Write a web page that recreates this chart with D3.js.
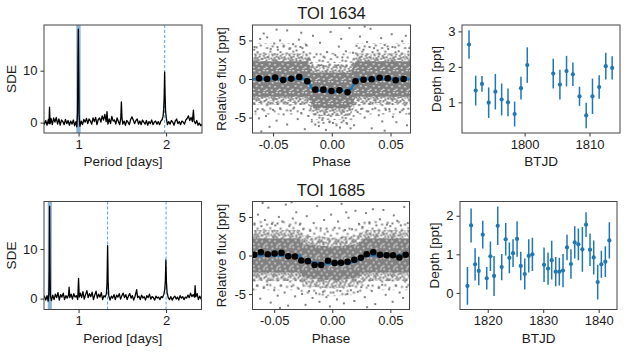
<!DOCTYPE html>
<html><head><meta charset="utf-8">
<script src="https://cdn.jsdelivr.net/npm/d3@7"></script>
<style>body{margin:0;background:#fff} svg text{font-family:"Liberation Sans",Arial,sans-serif;fill:#1a1a1a}</style>
</head><body><svg id="c" width="625" height="360"></svg>
<script>
// ---------- DATA ----------
const titles = ["TOI 1634", "TOI 1685"];
// BLS periodograms [period (days), SDE]
const sde1634 = [[0.605,0.2],[0.610,-0.3],[0.625,0.4],[0.640,-0.5],[0.655,0.6],[0.662,-0.2],[0.668,3.0],[0.675,-0.2],[0.685,0.8],[0.700,-0.4],[0.715,0.9],[0.730,0.1],[0.745,1.0],[0.760,-0.3],[0.775,0.7],[0.790,-0.5],[0.805,0.5],[0.820,0.2],[0.835,-0.4],[0.850,0.6],[0.865,-0.2],[0.880,0.4],[0.895,-0.5],[0.910,0.3],[0.925,-0.3],[0.940,0.5],[0.955,-0.6],[0.970,0.2],[0.980,-0.8],[0.988,2.0],[0.993,12.0],[0.997,18.0],[1.001,11.0],[1.006,1.5],[1.015,-0.7],[1.030,0.3],[1.045,-0.4],[1.060,0.6],[1.075,0.1],[1.090,0.8],[1.105,-0.2],[1.120,0.7],[1.135,0.3],[1.150,-0.3],[1.165,0.9],[1.180,0.2],[1.195,1.0],[1.210,-0.4],[1.225,0.6],[1.240,0.9],[1.255,0.1],[1.270,1.3],[1.285,0.5],[1.300,1.6],[1.315,0.2],[1.325,2.1],[1.335,-0.3],[1.350,0.7],[1.365,-0.2],[1.380,1.2],[1.395,0.3],[1.410,0.5],[1.425,-0.3],[1.440,0.9],[1.455,0.2],[1.470,-0.4],[1.482,0.8],[1.489,4.0],[1.496,0.9],[1.505,-0.3],[1.520,0.3],[1.535,-0.5],[1.550,0.4],[1.565,0.1],[1.580,-0.4],[1.595,0.6],[1.610,1.1],[1.625,0.5],[1.640,-0.2],[1.655,0.4],[1.670,0.7],[1.685,-0.3],[1.700,0.3],[1.715,-0.4],[1.730,0.5],[1.745,0.1],[1.760,-0.3],[1.775,0.4],[1.790,-0.5],[1.805,0.2],[1.820,-0.2],[1.835,0.5],[1.850,-0.4],[1.865,0.1],[1.880,0.3],[1.895,-0.3],[1.910,0.2],[1.925,-0.4],[1.940,0.3],[1.955,0.6],[1.965,1.2],[1.972,2.5],[1.978,5.0],[1.983,9.7],[1.988,5.5],[1.994,2.2],[2.002,0.9],[2.015,-0.4],[2.030,0.2],[2.045,-0.3],[2.060,0.4],[2.075,0.1],[2.090,-0.5],[2.105,0.3],[2.120,0.7],[2.135,-0.2],[2.150,0.2],[2.165,-0.4],[2.180,0.3],[2.195,0.1],[2.210,-0.3],[2.225,0.5],[2.240,0.8],[2.255,1.3],[2.270,0.4],[2.285,1.0],[2.300,0.2],[2.312,2.4],[2.320,0.3],[2.335,-0.2],[2.350,0.4],[2.365,-0.5],[2.380,-0.1],[2.395,-0.6],[2.410,-0.3]];
const sde1685 = [[0.605,0.2],[0.610,0.5],[0.625,-0.3],[0.640,0.6],[0.652,-0.5],[0.660,0.8],[0.665,6.0],[0.669,18.6],[0.673,7.0],[0.678,0.6],[0.690,-0.4],[0.705,0.7],[0.720,-0.2],[0.735,0.9],[0.750,0.2],[0.765,1.2],[0.780,-0.3],[0.795,0.8],[0.810,0.3],[0.825,1.1],[0.840,-0.2],[0.855,0.6],[0.870,0.1],[0.885,0.7],[0.892,2.3],[0.900,0.2],[0.915,0.9],[0.930,-0.1],[0.945,1.0],[0.960,0.3],[0.975,0.6],[0.990,-0.2],[1.000,4.1],[1.008,0.3],[1.020,1.1],[1.035,0.2],[1.050,1.4],[1.065,-0.1],[1.080,0.8],[1.095,1.6],[1.110,0.2],[1.125,1.0],[1.140,0.4],[1.155,1.3],[1.170,-0.2],[1.185,0.7],[1.200,1.5],[1.215,0.1],[1.230,0.9],[1.245,0.3],[1.260,1.2],[1.275,-0.2],[1.290,0.6],[1.305,0.3],[1.318,1.0],[1.325,3.0],[1.332,10.7],[1.338,3.5],[1.345,0.6],[1.360,-0.3],[1.375,0.5],[1.390,0.1],[1.405,0.8],[1.420,-0.2],[1.435,0.7],[1.450,0.3],[1.465,1.0],[1.480,-0.1],[1.495,0.6],[1.510,1.1],[1.525,0.2],[1.540,0.8],[1.555,-0.2],[1.570,0.5],[1.585,1.0],[1.600,0.1],[1.615,0.6],[1.630,-0.3],[1.645,0.4],[1.664,1.8],[1.675,0.2],[1.690,0.5],[1.705,-0.2],[1.720,0.7],[1.735,0.1],[1.750,0.4],[1.765,-0.3],[1.780,0.6],[1.795,0.2],[1.810,0.9],[1.825,-0.1],[1.840,0.4],[1.855,0.2],[1.870,-0.3],[1.885,0.5],[1.900,0.1],[1.915,0.3],[1.930,-0.2],[1.945,0.4],[1.960,0.2],[1.975,0.9],[1.985,1.8],[1.992,3.6],[1.998,7.8],[2.004,3.4],[2.012,1.2],[2.025,0.2],[2.040,-0.2],[2.055,0.4],[2.070,-0.3],[2.085,0.2],[2.100,0.5],[2.115,-0.1],[2.130,0.3],[2.145,-0.3],[2.160,0.6],[2.175,0.1],[2.190,0.4],[2.205,-0.2],[2.220,0.3],[2.235,0.1],[2.250,0.7],[2.265,0.2],[2.280,1.1],[2.295,0.4],[2.310,0.8],[2.325,0.3],[2.332,2.6],[2.340,0.4],[2.355,1.0],[2.370,-0.2],[2.385,0.5],[2.400,-0.1],[2.410,0.2]];
const band1634 = [0.974, 1.023];
const band1685 = [0.648, 0.694];
const harm1634 = [1.984];
const harm1685 = [1.332, 2.0];

// folded light curves: binned points
const binPhase1634 = [-0.0619,-0.0551,-0.0482,-0.0414,-0.0345,-0.0277,-0.0209,-0.0140,-0.0072,-0.0003,0.0065,0.0134,0.0202,0.0270,0.0339,0.0407,0.0476,0.0544,0.0612];
const binFlux1634  = [0.09,0.0,0.2,-0.13,0.04,0.26,-0.3,-1.38,-1.38,-1.55,-1.47,-1.72,-0.3,-0.09,-0.04,0.17,0.09,-0.17,0.0];
const binPhase1685 = [-0.0672,-0.0615,-0.0555,-0.0497,-0.0437,-0.0379,-0.0322,-0.0267,-0.0210,-0.0152,-0.0095,-0.0037,0.0020,0.0075,0.0132,0.0190,0.0247,0.0296,0.0353,0.0411,0.0468,0.0523,0.0578,0.0632];
const binFlux1685  = [0.09,0.43,0.17,0.26,0.34,-0.09,-0.13,-0.64,-0.73,-1.24,-1.24,-0.68,-0.98,-0.94,-0.81,-0.56,-0.30,0.17,0.43,0.09,0.04,0.04,-0.26,0.09];
// transit models
const modPhase1634 = [-0.07,-0.0205,-0.019,-0.0165,-0.0150,-0.010,-0.005,0.0,0.005,0.010,0.0150,0.0165,0.019,0.0205,0.07];
const modFlux1634  = [0,0,-0.6,-1.30,-1.40,-1.52,-1.60,-1.62,-1.60,-1.52,-1.40,-1.30,-0.6,0,0];
const modPhase1685 = [-0.07,-0.028,-0.0255,-0.020,-0.010,0.0,0.010,0.018,0.022,0.026,0.029,0.07];
const modFlux1685  = [0,0,-0.72,-0.85,-1.0,-1.05,-1.0,-0.88,-0.65,-0.3,0,0];
// density envelope of the unbinned cloud (phase; dense core, dense fringe, sparse fringe)
const envPhase1634 = [-0.07,-0.0205,-0.0155,0.0155,0.0205,0.07];
const coreLo1634 = [-2.3,-2.3,-3.8,-3.8,-2.3,-2.3];
const coreHi1634 = [2.3,2.3,0.8,0.8,2.3,2.3];
const midLo1634  = [-3.3,-3.3,-4.8,-4.8,-3.3,-3.3];
const midHi1634  = [3.3,3.3,1.9,1.9,3.3,3.3];
const outLo1634  = [-4.6,-4.6,-5.8,-5.8,-4.6,-4.6];
const outHi1634  = [4.6,4.6,3.4,3.4,4.6,4.6];
const envPhase1685 = [-0.07,-0.028,-0.025,0.0,0.022,0.028,0.07];
const coreLo1685 = [-2.2,-2.2,-2.9,-3.25,-2.9,-2.2,-2.2];
const coreHi1685 = [2.2,2.2,1.5,1.15,1.5,2.2,2.2];
const midLo1685  = [-3.3,-3.3,-4.0,-4.3,-4.0,-3.3,-3.3];
const midHi1685  = [3.3,3.3,2.6,2.3,2.6,3.3,3.3];
const outLo1685  = [-4.5,-4.5,-5.1,-5.3,-5.1,-4.5,-4.5];
const outHi1685  = [4.5,4.5,3.9,3.7,3.9,4.5,4.5];
// scattered individual points outside the dense cloud [phase, flux]
const pts1634 = [[-0.064,4.1],[-0.061,5.2],[-0.058,5.9],[-0.055,5.4],[-0.052,3.9],[-0.049,4.6],[-0.046,3.8],[-0.044,5.0],[-0.041,4.2],[-0.038,6.3],[-0.036,3.9],[-0.033,4.5],[-0.030,3.7],[-0.028,5.1],[-0.025,4.0],[-0.022,4.4],[-0.019,2.6],[-0.016,5.6],[-0.013,3.2],[-0.010,4.7],[-0.007,2.9],[-0.004,3.5],[-0.001,6.1],[0.003,3.1],[0.006,4.2],[0.009,2.8],[0.012,3.6],[0.015,6.6],[0.018,3.4],[0.021,4.3],[0.024,5.5],[0.027,3.8],[0.030,4.8],[0.033,6.5],[0.036,4.0],[0.039,3.7],[0.042,5.3],[0.045,4.4],[0.048,3.9],[0.051,5.8],[0.054,4.1],[0.057,3.6],[0.060,4.9],[0.063,5.6],[0.066,4.0],[-0.066,3.8],[-0.047,6.4],[0.028,6.8],[0.008,5.2],[-0.026,6.0],
 [-0.065,-4.2],[-0.062,-5.1],[-0.059,-3.9],[-0.056,-4.8],[-0.053,-6.2],[-0.050,-4.0],[-0.047,-5.4],[-0.044,-3.8],[-0.041,-4.6],[-0.038,-5.9],[-0.035,-4.1],[-0.032,-3.7],[-0.029,-5.2],[-0.026,-4.4],[-0.023,-6.5],[-0.020,-4.8],[-0.017,-5.5],[-0.014,-5.9],[-0.011,-6.1],[-0.008,-5.3],[-0.005,-6.6],[-0.002,-5.6],[0.001,-5.7],[0.004,-6.0],[0.007,-6.3],[0.010,-5.4],[0.013,-5.8],[0.016,-6.4],[0.019,-6.0],[0.022,-4.3],[0.025,-3.9],[0.028,-5.0],[0.031,-4.2],[0.034,-6.4],[0.037,-3.8],[0.040,-4.7],[0.043,-5.5],[0.046,-4.0],[0.049,-3.9],[0.052,-4.9],[0.055,-5.6],[0.058,-4.3],[0.061,-3.9],[0.064,-6.0],[0.066,-4.5],[-0.060,-6.8],[0.045,-6.7]];
const pts1685 = [[-0.067,4.0],[-0.064,5.3],[-0.061,3.8],[-0.058,4.6],[-0.055,6.2],[-0.052,4.1],[-0.049,3.9],[-0.046,5.0],[-0.043,4.4],[-0.040,6.6],[-0.037,3.8],[-0.034,4.8],[-0.031,5.6],[-0.028,4.0],[-0.025,3.4],[-0.022,5.1],[-0.019,3.2],[-0.016,4.2],[-0.013,6.4],[-0.010,3.5],[-0.007,4.6],[-0.004,3.1],[-0.001,5.3],[0.002,3.6],[0.005,4.4],[0.008,6.7],[0.011,3.3],[0.014,4.9],[0.017,3.4],[0.020,5.8],[0.023,4.1],[0.026,3.7],[0.029,5.5],[0.032,4.3],[0.035,6.0],[0.038,3.9],[0.041,4.7],[0.044,5.9],[0.047,4.0],[0.050,3.8],[0.053,5.2],[0.056,4.5],[0.059,3.9],[0.062,6.3],[0.065,4.2],[-0.060,6.8],[0.012,5.6],[-0.035,6.9],
 [-0.068,-4.4],[-0.065,-3.9],[-0.062,-5.6],[-0.059,-4.2],[-0.056,-3.8],[-0.053,-6.1],[-0.050,-4.5],[-0.047,-5.2],[-0.044,-3.9],[-0.041,-4.8],[-0.038,-6.5],[-0.035,-4.0],[-0.032,-5.3],[-0.029,-4.3],[-0.026,-5.0],[-0.023,-6.4],[-0.020,-4.6],[-0.017,-5.5],[-0.014,-4.9],[-0.011,-6.0],[-0.008,-4.7],[-0.005,-5.4],[-0.002,-6.6],[0.001,-4.8],[0.004,-5.7],[0.007,-4.6],[0.010,-6.2],[0.013,-5.0],[0.016,-4.5],[0.019,-5.9],[0.022,-4.7],[0.025,-4.1],[0.028,-5.4],[0.031,-3.9],[0.034,-4.6],[0.037,-6.3],[0.040,-4.2],[0.043,-3.8],[0.046,-5.1],[0.049,-4.4],[0.052,-6.0],[0.055,-3.9],[0.058,-4.8],[0.061,-5.5],[0.064,-4.1],[-0.045,-6.8],[0.030,-6.7]];
// per-transit depths
const btjd1634  = [1791.43,1792.46,1793.43,1794.46,1795.49,1796.46,1797.44,1798.46,1799.44,1800.41,1804.41,1805.44,1806.46,1807.44,1808.46,1809.49,1810.46,1811.49,1812.51,1813.49];
const depth1634 = [2.63,1.33,1.52,0.99,1.30,1.08,1.00,0.67,1.40,2.05,1.81,1.50,1.88,1.79,1.17,0.63,1.17,1.43,2.02,1.97];
const err1634   = [0.40,0.42,0.22,0.43,0.50,0.45,0.39,0.35,0.32,0.50,0.42,0.42,0.43,0.33,0.27,0.36,0.50,0.33,0.38,0.33];
const btjd1685  = [1816.34,1817.00,1817.72,1818.38,1819.10,1819.82,1820.48,1821.14,1821.80,1822.52,1823.24,1823.90,1824.56,1825.29,1825.95,1826.67,1827.39,1828.05,1830.15,1830.87,1831.53,1832.25,1832.91,1833.57,1834.29,1835.00,1835.68,1836.34,1837.06,1837.72,1838.44,1839.10,1839.82,1840.48,1841.20,1841.92];
const depth1685 = [0.18,1.75,0.74,0.57,1.51,0.38,0.95,0.44,1.74,0.67,1.39,0.91,1.03,1.40,0.70,0.49,0.96,1.00,0.73,0.63,0.85,0.55,0.55,0.58,1.18,0.75,1.31,1.26,1.13,1.77,1.12,0.92,0.28,0.74,0.81,1.36];
const err1685   = [0.49,0.44,0.42,0.37,0.36,0.29,0.38,0.52,0.50,0.34,0.42,0.40,0.36,0.46,0.37,0.40,0.43,0.43,0.45,0.42,0.50,0.38,0.36,0.43,0.33,0.38,0.42,0.41,0.58,0.32,0.42,0.44,0.45,0.35,0.40,0.47];
// ticks
const perTicks = [1, 2];
const phaseTicks = [-0.05, 0, 0.05];
const fluxTicks = [-5, 0, 5];
const sdeTicks = [0, 10];
const btjdTicks1634 = [1800, 1810], btjdTicks1685 = [1820, 1830, 1840];
const depthTicks1634 = [1, 2, 3], depthTicks1685 = [0, 1, 2];

// ---------- DRAW ----------
const C0 = "#1f77b4", GREY = "#808080";
const svg = d3.select("#c");
const defs = svg.append("defs");
// textures that stand in for the thousands of unbinned flux points
function texture(id, w, h, bg, dots, size, col){
  const p = defs.append("pattern").attr("id",id).attr("patternUnits","userSpaceOnUse").attr("width",w).attr("height",h);
  if (bg) p.append("rect").attr("width",w).attr("height",h).attr("fill",bg);
  dots.forEach(d=>p.append("rect").attr("x",d[0]).attr("y",d[1]).attr("width",size).attr("height",size).attr("fill",col));
}
texture("coreTex",13,11,GREY,[[1,1],[6.4,2.2],[10.7,0.8],[3.5,5.3],[8.8,6.1],[0.4,8.7],[5.6,9.4],[11.5,9.9]],1.4,"#fff");
texture("midTex",17,13,null,[[0,0],[4.5,1.2],[8,0.3],[12.3,2.1],[15.2,0.6],[2.2,3.4],[6.1,4.6],[10.4,3.8],[14.1,5.3],[0.8,6.5],[5.3,7.9],[8.7,6.8],[12.9,8.4],[16,7.4],[3.1,9.6],[7.4,10.7],[11,10.2],[14.8,11.3],[0.4,11.8],[5.9,12],[9.6,12.6],[1.7,1.9],[11.5,5.9],[6.8,2.3],[3.9,6.2],[13.6,0.2],[16.2,3.2],[2.6,8.2]],2,GREY);
texture("outTex",23,19,null,[[1,2],[7.3,0.5],[13.6,3.1],[19.2,1.4],[4.1,7.2],[10.5,8.4],[16.8,6.6],[21.4,9.3],[2.2,12.5],[8.4,14.1],[14.7,12.2],[19.9,15.6],[5.5,17.4],[12.1,17.9],[17.3,18.5],[0.3,16.1]],2,GREY);

let cid = 0;
function panel(x0,y0,w,h,xd,yd){
  const g = svg.append("g").attr("transform",`translate(${x0},${y0})`);
  const x = d3.scaleLinear().domain(xd).range([0,w]);
  const y = d3.scaleLinear().domain(yd).range([h,0]);
  const id = "clip"+(cid++);
  defs.append("clipPath").attr("id",id).append("rect").attr("width",w).attr("height",h);
  const plot = g.append("g").attr("clip-path",`url(#${id})`);
  return {g,plot,x,y,w,h};
}
function axes(p,xt,yt,xf,yf,xl,yl,ylx){
  const style = s => s.attr("font-size",13).attr("font-family","Liberation Sans, Arial, sans-serif").attr("color","#1a1a1a")
     .call(a=>a.select(".domain").remove()).call(a=>a.selectAll("line").attr("stroke","#333"));
  p.g.append("g").attr("transform",`translate(0,${p.h})`)
    .call(d3.axisBottom(p.x).tickValues(xt).tickFormat(xf).tickSize(3.5).tickPadding(3)).call(style);
  p.g.append("g").call(d3.axisLeft(p.y).tickValues(yt).tickFormat(yf).tickSize(3.5).tickPadding(3)).call(style);
  p.g.append("rect").attr("x",0).attr("y",0).attr("width",p.w).attr("height",p.h).attr("fill","none").attr("stroke","#444").attr("stroke-width",1);
  p.g.append("text").attr("x",p.w/2).attr("y",p.h+33).attr("text-anchor","middle").attr("font-size",13.5).text(xl);
  p.g.append("text").attr("transform",`translate(${ylx},${p.h/2}) rotate(-90)`).attr("text-anchor","middle").attr("font-size",13.5).text(yl);
}
function periodogram(p,data,band,harm){
  p.plot.append("rect").attr("x",p.x(band[0])).attr("width",p.x(band[1])-p.x(band[0])).attr("y",0).attr("height",p.h).attr("fill",C0).attr("opacity",0.55);
  p.plot.selectAll(".hl").data(harm).join("line").attr("x1",d=>p.x(d)).attr("x2",d=>p.x(d)).attr("y1",0).attr("y2",p.h)
    .attr("stroke","#5aa0d8").attr("stroke-width",1).attr("stroke-dasharray","3,2");
  p.plot.append("path").datum(data).attr("fill","none").attr("stroke","#000").attr("stroke-width",1.3).attr("stroke-linejoin","round")
    .attr("d",d3.line().x(d=>p.x(d[0])).y(d=>p.y(d[1])));
}
function folded(p,env,pts,modP,modF,binP,binF){
  const [ep,cl,ch,ml,mh,ol,oh] = env;
  const idx = d3.range(ep.length);
  const band = (lo,hi,fill) => p.plot.append("path").datum(idx).attr("fill",fill)
    .attr("d",d3.area().x(i=>p.x(ep[i])).y0(i=>p.y(lo[i])).y1(i=>p.y(hi[i])));
  band(ol,oh,"url(#outTex)");
  band(ml,mh,"url(#midTex)");
  band(cl,ch,"url(#coreTex)");
  p.plot.selectAll(".pt").data(pts).join("rect").attr("x",d=>p.x(d[0])-1).attr("y",d=>p.y(d[1])-1).attr("width",2).attr("height",2).attr("fill",GREY);
  p.plot.append("path").datum(d3.range(modP.length)).attr("fill","none").attr("stroke",C0).attr("stroke-width",2.6)
    .attr("d",d3.line().x(i=>p.x(modP[i])).y(i=>p.y(modF[i])));
  p.plot.selectAll(".bn").data(d3.range(binP.length)).join("circle").attr("cx",i=>p.x(binP[i])).attr("cy",i=>p.y(binF[i])).attr("r",3.3).attr("fill","#000");
}
function depths(p,t,dp,er){
  const idx = d3.range(t.length);
  p.plot.selectAll(".eb").data(idx).join("line").attr("x1",i=>p.x(t[i])).attr("x2",i=>p.x(t[i]))
    .attr("y1",i=>p.y(dp[i]-er[i])).attr("y2",i=>p.y(dp[i]+er[i])).attr("stroke",C0).attr("stroke-width",1.5);
  p.plot.selectAll(".dp").data(idx).join("circle").attr("cx",i=>p.x(t[i])).attr("cy",i=>p.y(dp[i])).attr("r",2.1).attr("fill",C0);
}
const fmtInt = d3.format("d"), fmtPh = d => d.toFixed(2);

// Row 1: TOI 1634
const p1 = panel(44,25,158,108,[0.605,2.41],[-2,18.8]);
periodogram(p1,sde1634,band1634,harm1634);
axes(p1,perTicks,sdeTicks,fmtInt,fmtInt,"Period [days]","SDE",-28.5);
const p2 = panel(252.5,25,158,108,[-0.0675,0.067],[-7,7]);
folded(p2,[envPhase1634,coreLo1634,coreHi1634,midLo1634,midHi1634,outLo1634,outHi1634],pts1634,modPhase1634,modFlux1634,binPhase1634,binFlux1634);
axes(p2,phaseTicks,fluxTicks,fmtPh,d=>String(d),"Phase","Relative flux [ppt]",-26.5);
p2.g.append("text").attr("x",p2.w/2).attr("y",-6).attr("text-anchor","middle").attr("font-size",16.5).text(titles[0]);
const p3 = panel(462,25,158,108,[1790.35,1814.7],[0.135,3.18]);
depths(p3,btjd1634,depth1634,err1634);
axes(p3,btjdTicks1634,depthTicks1634,fmtInt,fmtInt,"BTJD","Depth [ppt]",-21);

// Row 2: TOI 1685
const p4 = panel(44,201.5,157.5,108,[0.605,2.405],[-2.2,19.6]);
periodogram(p4,sde1685,band1685,harm1685);
axes(p4,perTicks,sdeTicks,fmtInt,fmtInt,"Period [days]","SDE",-28.5);
const p5 = panel(252.5,201.5,157,108,[-0.0687,0.0665],[-7,7]);
folded(p5,[envPhase1685,coreLo1685,coreHi1685,midLo1685,midHi1685,outLo1685,outHi1685],pts1685,modPhase1685,modFlux1685,binPhase1685,binFlux1685);
axes(p5,phaseTicks,fluxTicks,fmtPh,d=>String(d),"Phase","Relative flux [ppt]",-26.5);
p5.g.append("text").attr("x",p5.w/2).attr("y",-6).attr("text-anchor","middle").attr("font-size",16.5).text(titles[1]);
const p6 = panel(460,201.5,157,108,[1815.0,1843.3],[-0.43,2.37]);
depths(p6,btjd1685,depth1685,err1685);
axes(p6,btjdTicks1685,depthTicks1685,fmtInt,fmtInt,"BTJD","Depth [ppt]",-21);
</script></body></html>
